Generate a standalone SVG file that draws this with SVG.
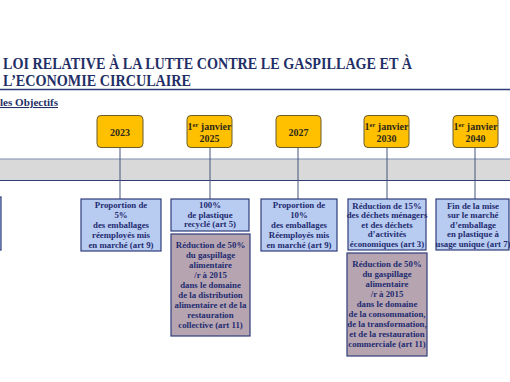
<svg xmlns="http://www.w3.org/2000/svg" width="510" height="382" viewBox="0 0 510 382">
<style>
.t{font-family:'Liberation Serif','Times New Roman','DejaVu Serif',serif;font-weight:bold}
.title{font-size:16px;fill:#1F2F66}
.date{fill:#FFC000;stroke:#6B5A2A;stroke-width:1}
.dt{font-size:10px;fill:#2E2A1A;text-anchor:middle}
.blue{fill:#B8CBF0;stroke:#2F3C7A;stroke-width:1.2}
.brown{fill:#B6A5B1;stroke:#2F3C7A;stroke-width:1.2}
.bt{font-size:8.8px;fill:#1F2B70;text-anchor:middle}
.conn{stroke:#44557A;stroke-width:1;fill:none}
</style>
<rect width="510" height="382" fill="#FFFFFF"/>
<g id="title">
<text class="t title" x="3" y="69" textLength="409" lengthAdjust="spacingAndGlyphs">LOI RELATIVE À LA LUTTE CONTRE LE GASPILLAGE ET À</text>
<text class="t title" x="3" y="86" textLength="188" lengthAdjust="spacingAndGlyphs">L’ECONOMIE CIRCULAIRE</text>
<line x1="0" y1="89.5" x2="510" y2="89.5" stroke="#2F3C7A" stroke-width="1.5"/>
<text class="t" x="0" y="106" font-size="10.5" fill="#1F2F66" text-decoration="underline" textLength="58" lengthAdjust="spacingAndGlyphs">les Objectifs</text>
</g>
<g id="band">
<rect x="0" y="159" width="510" height="21" fill="#D9D9D9"/>
<line x1="0" y1="159" x2="510" y2="159" stroke="#7F8FB0" stroke-width="1.2"/>
<line x1="0" y1="180.5" x2="510" y2="180.5" stroke="#2F3C7A" stroke-width="1.2"/>
</g>
<g id="connectors">
<line class="conn" x1="120" y1="147" x2="120" y2="199"/>
<line class="conn" x1="210" y1="147" x2="210" y2="199"/>
<line class="conn" x1="298" y1="147" x2="298" y2="199"/>
<line class="conn" x1="387" y1="147" x2="387" y2="199"/>
<line class="conn" x1="475" y1="147" x2="475" y2="199"/>
</g>
<g id="d2023">
<rect class="date" x="97" y="115.5" width="46" height="32" rx="4"/>
<text class="t dt" x="120" y="136">2023</text>
</g>
<g id="d2025">
<rect class="date" x="187" y="115.5" width="45" height="32" rx="4"/>
<text class="t dt" x="209.5" y="130">1<tspan font-size="6.5" dy="-3.5">er</tspan><tspan dy="3.5"> janvier</tspan></text>
<text class="t dt" x="209.5" y="141.5">2025</text>
</g>
<g id="d2027">
<rect class="date" x="276" y="115.5" width="45" height="32" rx="4"/>
<text class="t dt" x="298.5" y="136">2027</text>
</g>
<g id="d2030">
<rect class="date" x="364" y="115.5" width="45" height="32" rx="4"/>
<text class="t dt" x="386.5" y="130">1<tspan font-size="6.5" dy="-3.5">er</tspan><tspan dy="3.5"> janvier</tspan></text>
<text class="t dt" x="386.5" y="141.5">2030</text>
</g>
<g id="d2040">
<rect class="date" x="453" y="115.5" width="45" height="32" rx="4"/>
<text class="t dt" x="475.5" y="130">1<tspan font-size="6.5" dy="-3.5">er</tspan><tspan dy="3.5"> janvier</tspan></text>
<text class="t dt" x="475.5" y="141.5">2040</text>
</g>
<g id="left-box">
<rect class="blue" x="-60" y="197" width="61" height="53"/>
</g>
<g id="b2023">
<rect class="blue" x="81" y="199" width="80" height="52"/>
<text class="t bt" x="121" y="208">Proportion de<tspan x="121" dy="9.9">5%</tspan><tspan x="121" dy="9.9">des emballages</tspan><tspan x="121" dy="9.9">réemployés mis</tspan><tspan x="121" dy="9.9">en marché (art 9)</tspan></text>
</g>
<g id="b2025">
<rect class="blue" x="171" y="199" width="78" height="32"/>
<text class="t bt" x="210" y="208">100%<tspan x="210" dy="9.6">de plastique</tspan><tspan x="210" dy="9.6">recyclé (art 5)</tspan></text>
</g>
<g id="b2025b">
<rect class="brown" x="171" y="234" width="79" height="102"/>
<text class="t bt" x="210.5" y="248">Réduction de 50%<tspan x="210.5" dy="10">du gaspillage</tspan><tspan x="210.5" dy="10">alimentaire</tspan><tspan x="210.5" dy="10">/r à 2015</tspan><tspan x="210.5" dy="10">dans le domaine</tspan><tspan x="210.5" dy="10">de la distribution</tspan><tspan x="210.5" dy="10">alimentaire et de la</tspan><tspan x="210.5" dy="10">restauration</tspan><tspan x="210.5" dy="10">collective (art 11)</tspan></text>
</g>
<g id="b2027">
<rect class="blue" x="261" y="199" width="76" height="52"/>
<text class="t bt" x="299" y="208">Proportion de<tspan x="299" dy="9.9">10%</tspan><tspan x="299" dy="9.9">des emballages</tspan><tspan x="299" dy="9.9">Réemployés mis</tspan><tspan x="299" dy="9.9">en marché (art 9)</tspan></text>
</g>
<g id="b2030">
<rect class="blue" x="348" y="199" width="78" height="51"/>
<text class="t bt" x="387" y="208.5">Réduction de 15%<tspan x="387" dy="9.6">des déchets ménagers</tspan><tspan x="387" dy="9.6">et des déchets</tspan><tspan x="387" dy="9.6">d’activités</tspan><tspan x="387" dy="9.6">économiques (art 3)</tspan></text>
</g>
<g id="b2030b">
<rect class="brown" x="347" y="253" width="80" height="103"/>
<text class="t bt" x="387" y="267">Réduction de 50%<tspan x="387" dy="10">du gaspillage</tspan><tspan x="387" dy="10">alimentaire</tspan><tspan x="387" dy="10">/r à 2015</tspan><tspan x="387" dy="10">dans le domaine</tspan><tspan x="387" dy="10">de la consommation,</tspan><tspan x="387" dy="10">de la transformation,</tspan><tspan x="387" dy="10">et de la restauration</tspan><tspan x="387" dy="10">commerciale (art 11)</tspan></text>
</g>
<g id="b2040">
<rect class="blue" x="436" y="199" width="73" height="51"/>
<text class="t bt" x="473" y="208.5">Fin de la mise<tspan x="473" dy="9.6">sur le marché</tspan><tspan x="473" dy="9.6">d’emballage</tspan><tspan x="473" dy="9.6">en plastique à</tspan><tspan x="473" dy="9.6">usage unique (art 7)</tspan></text>
</g>
</svg>
